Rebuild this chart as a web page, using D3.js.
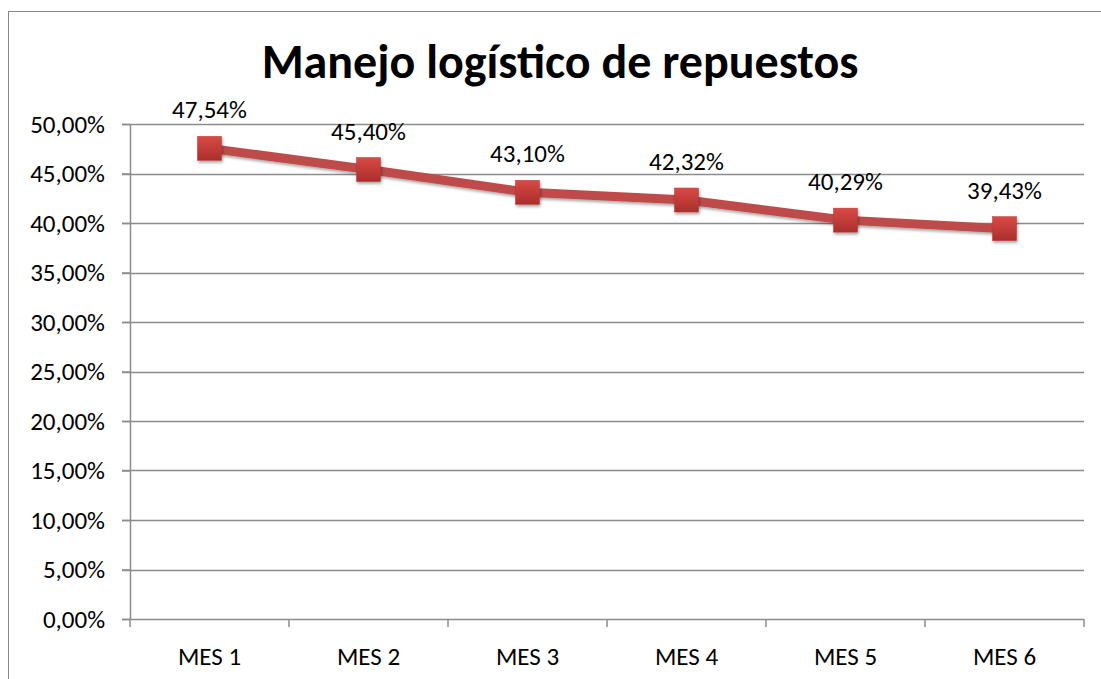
<!DOCTYPE html>
<html><head><meta charset="utf-8">
<script src="https://cdn.jsdelivr.net/npm/d3@7"></script>
<style>body{margin:0;background:#fff}svg{display:block}text{font-family:Carlito,Calibri,"Open Sans","Liberation Sans",sans-serif}</style>
</head><body>
<script>
const categories = ["MES 1","MES 2","MES 3","MES 4","MES 5","MES 6"];
const values = [0.4754,0.4540,0.4310,0.4232,0.4029,0.3943];
const labels = ["47,54%","45,40%","43,10%","42,32%","40,29%","39,43%"];
const yTicks = [0,0.05,0.10,0.15,0.20,0.25,0.30,0.35,0.40,0.45,0.50];
const title = "Manejo logístico de repuestos";

(function(){
const W=1101,H=679;
const svg=d3.select("body").append("svg").attr("width",W).attr("height",H);
const defs=svg.append("defs");
const g=defs.append("linearGradient").attr("id","mk").attr("x1",0).attr("y1",0).attr("x2",0).attr("y2",1);
g.append("stop").attr("offset","0").attr("stop-color","#D94A46");
g.append("stop").attr("offset","1").attr("stop-color","#A92E2B");
const f=defs.append("filter").attr("id","sh").attr("x","-50%").attr("y","-50%").attr("width","200%").attr("height","200%");
f.append("feDropShadow").attr("dx",1).attr("dy",2).attr("stdDeviation",1.5).attr("flood-color","#000").attr("flood-opacity",0.35);

svg.append("rect").attr("x",8.5).attr("y",11.5).attr("width",1110).attr("height",700).attr("fill","#fff").attr("stroke","#888").attr("stroke-width",1);

const pL=130,pR=1084,pT=124,pB=619;
const x=d3.scaleBand().domain(categories).range([pL,pR]);
const y=d3.scaleLinear().domain([0,0.5]).range([pB,pT]);
const fmt=d=>d3.format(".2f")(d*100).replace(".",",")+"%";
const FS=25;

svg.append("g").selectAll("line").data(yTicks).join("line")
 .attr("x1",pL-8).attr("x2",pR).attr("y1",d=>Math.round(y(d))+0.5).attr("y2",d=>Math.round(y(d))+0.5)
 .attr("stroke","#8c8c8c").attr("stroke-width",1.5);

const ya=svg.append("g").attr("transform",`translate(${pL},0)`)
 .call(d3.axisLeft(y).tickValues(yTicks).tickFormat(fmt).tickSize(8).tickPadding(17));
ya.select(".domain").attr("stroke","#8c8c8c").attr("stroke-width",1.5).attr("d",`M0.5,${pT}V${pB}`);
ya.selectAll(".tick line").attr("stroke","#8c8c8c").attr("stroke-width",1.5);
ya.selectAll("text").attr("font-size",FS).attr("fill","#000");

const xa=svg.append("g").attr("transform",`translate(0,${pB})`)
 .call(d3.axisBottom(x).tickSize(0).tickPadding(28));
xa.select(".domain").remove();
xa.selectAll("text").attr("font-size",FS).attr("fill","#000");
xa.selectAll(".sep").data(d3.range(categories.length+1)).join("line")
 .attr("x1",i=>pL+i*x.bandwidth()).attr("x2",i=>pL+i*x.bandwidth())
 .attr("y1",0).attr("y2",8).attr("stroke","#8c8c8c").attr("stroke-width",1.5);

const cx=d=>x(d)+x.bandwidth()/2;
const line=d3.line().x((d,i)=>cx(categories[i])).y(d=>y(d));
svg.append("path").datum(values).attr("d",line).attr("fill","none")
 .attr("stroke","#BE4B48").attr("stroke-width",9).attr("filter","url(#sh)");

svg.selectAll(".mk").data(values).join("rect")
 .attr("x",(d,i)=>cx(categories[i])-12).attr("y",d=>y(d)-12)
 .attr("width",24).attr("height",24).attr("fill","url(#mk)").attr("stroke","#B83A37").attr("stroke-width",0.5).attr("filter","url(#sh)");

svg.selectAll(".lbl").data(values).join("text")
 .attr("x",(d,i)=>cx(categories[i])).attr("y",d=>y(d)-30)
 .attr("text-anchor","middle").attr("font-size",FS).attr("fill","#000").text((d,i)=>labels[i]);

svg.append("text").attr("x",560).attr("y",78).attr("text-anchor","middle")
 .attr("font-size",48).attr("font-weight","bold").attr("fill","#000").text(title);
})();
</script>
</body></html>
